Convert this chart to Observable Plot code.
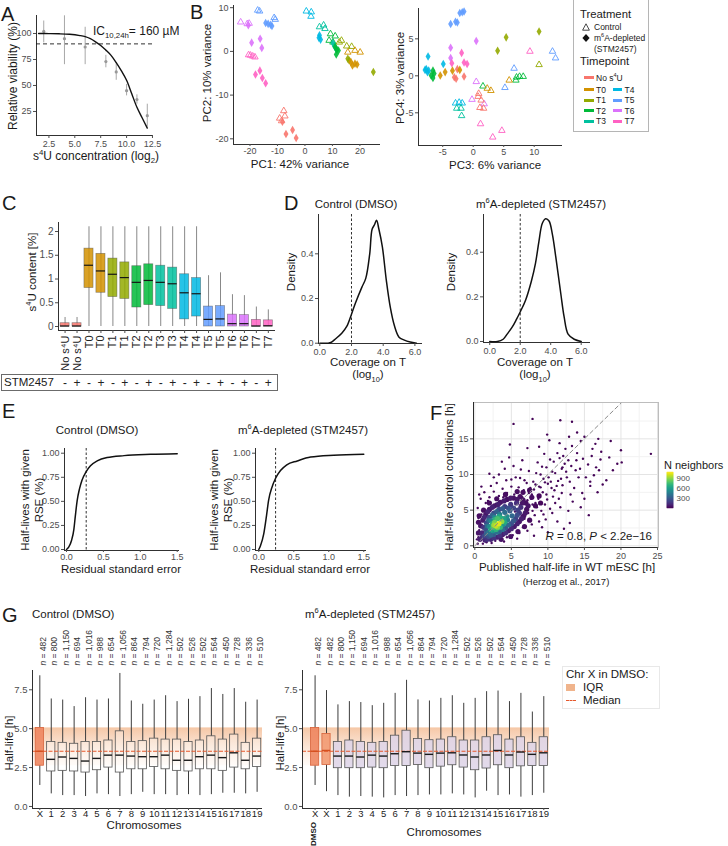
<!DOCTYPE html>
<html><head><meta charset="utf-8">
<script src="https://cdn.jsdelivr.net/npm/d3@7"></script>
<script src="https://cdn.jsdelivr.net/npm/@observablehq/plot@0.6"></script>
<style>
body{margin:0;background:#fff;}
#root{position:relative;width:728px;height:846px;overflow:hidden;font-family:"Liberation Sans",Arial,Helvetica,sans-serif;color:#222;background:#fff;}
.t{position:absolute;white-space:nowrap;line-height:1;}
sup,sub{font-size:0.65em;line-height:0;}
</style></head><body><div id="root"></div>
<script>
// ---------------- DATA ----------------
// Panel A: viability
const aConc = [2, 4, 6, 8, 9, 10, 11, 12];
const aMean = [102, 95, 87, 73, 63, 45, 36.5, 21];
const aLo = [91, 70, 70, 67, 55, 40, 32, 10];
const aHi = [112, 117, 106, 79, 72, 51, 41, 32];
const aFitX = [1.5, 2.5, 3.5, 4.5, 5.5, 6.0, 6.5, 7.0, 7.5, 8.0, 8.5, 9.0, 9.5, 10.0, 10.5, 11.0, 11.5, 12.0];
const aFitY = [100, 99.9, 99.7, 99.2, 98, 97, 95, 92, 88.5, 84, 79, 72, 64, 55, 42, 29, 19, 9];
const aThreshold = 90;
const aXTicks = [2.5, 5, 7.5, 10, 12.5];
const aYTicks = [25, 50, 75, 100];

// Panel B: PCA  [timepoint, treatment (C = control, S = STM2457), x, y]
const tpKeys = ["N", "T0", "T1", "T2", "T3", "T4", "T5", "T6", "T7"];
const tpNames = ["No s<sup>4</sup>U", "T0", "T1", "T2", "T3", "T4", "T5", "T6", "T7"];
const tpColors = ["#F8766D", "#D39200", "#93AA00", "#00BA38", "#00C19F", "#00B9E3", "#619CFF", "#DB72FB", "#FF61C3"];
const bPC12 = [
  ["N","C",-7.7,-13.6],["N","C",-7.3,-14.8],["N","C",-9.2,-15.3],["N","C",-8.5,-15.9],
  ["N","S",-8.2,-16.1],["N","S",-6.9,-18.9],["N","S",-4.5,-18.0],["N","S",-3.2,-19.8],
  ["T7","C",-20.5,-0.8],["T7","C",-19.8,-0.9],["T7","C",-19.0,-1.1],["T7","C",-18.2,-1.3],
  ["T7","S",-18.0,-5.3],["T7","S",-16.4,-4.4],["T7","S",-15.5,-6.1],["T7","S",-14.3,-7.3],
  ["T6","C",-23.4,6.7],["T6","C",-21.0,6.3],["T6","C",-20.3,6.4],
  ["T6","S",-19.4,2.0],["T6","S",-16.3,2.9],["T6","S",-15.7,0.8],["T6","S",-20.6,6.0],
  ["T5","C",-17.2,9.4],["T5","C",-16.5,9.2],["T5","C",-11.2,7.7],["T5","C",-10.8,7.3],
  ["T5","S",-14.3,6.5],["T5","S",-13.4,6.3],["T5","S",-12.5,6.1],["T5","S",-12.0,5.8],
  ["T4","C",0.5,9.2],["T4","C",2.3,9.0],["T4","C",2.2,8.0],
  ["T4","S",5.3,3.7],["T4","S",5.1,3.1],["T4","S",5.7,2.7],
  ["T3","C",5.3,5.6],["T3","C",6.8,6.0],["T3","C",7.3,5.2],
  ["T3","S",10.2,1.9],["T3","S",10.8,1.2],["T3","S",11.3,0.6],
  ["T2","C",9.3,4.0],["T2","C",11.0,3.5],["T2","C",8.8,2.5],["T2","C",10.2,2.1],
  ["T2","S",11.6,0.4],["T2","S",12.2,0.2],["T2","S",11.4,-0.7],["T2","S",11.0,1.0],
  ["T1","C",12.5,2.1],["T1","C",13.3,2.5],["T1","C",15.2,1.2],["T1","C",17.0,1.1],
  ["T1","S",15.6,-1.7],["T1","S",16.1,-2.1],["T1","S",24.9,-4.7],
  ["T0","C",15.6,-0.2],["T0","C",18.2,0.2],["T0","C",20.1,-0.2],
  ["T0","S",16.7,-2.4],["T0","S",17.3,-3.2],["T0","S",18.2,-2.8],["T0","S",19.0,-3.0]
];
const bPC34 = [
  ["T5","S",-2.2,8.5],["T5","S",-1.8,8.6],["T5","S",-1.5,8.7],["T5","S",-3.7,7.0],["T5","S",-2.9,7.3],["T5","S",-2.6,7.2],
  ["T6","S",0.5,4.7],["T6","S",-3.7,3.8],["T6","S",-3.7,2.4],
  ["T1","S",5.4,5.2],["T1","S",10.8,6.0],["T1","S",4.0,3.4],
  ["T7","S",-1.9,3.1],["T7","S",-1.5,1.8],["T7","S",-1.0,1.6],["T7","S",-3.5,1.7],
  ["N","S",-3.1,-0.2],["N","S",-2.8,-0.4],["N","S",-1.5,-0.1],["N","S",-2.6,0.9],
  ["T4","S",-7.4,2.6],["T4","S",-4.9,1.6],["T4","S",-7.7,0.9],["T4","S",-7.3,0.7],["T4","S",-7.5,0.5],["T4","S",-7.9,0.8],
  ["T2","S",-6.6,0.7],["T2","S",-6.9,0.05],["T2","S",-6.6,-0.3],["T2","S",-6.4,0.3],
  ["T0","S",-5.4,0.05],["T0","S",-4.6,0.5],["T0","S",-3.4,0.7],["T0","S",-2.2,0.8],
  ["T7","C",9.3,3.3],["T7","C",1.2,-6.5],["T7","C",3.2,-8.3],["T7","C",4.7,-7.4],
  ["T1","C",10.8,1.5],
  ["T5","C",6.7,1.0],["T5","C",5.2,-1.6],["T5","C",13.0,3.3],["T5","C",13.5,2.4],
  ["T2","C",7.1,-0.2],["T2","C",7.6,-0.1],["T2","C",8.2,-0.1],["T2","C",7.0,-0.6],["T2","C",1.6,-1.4],
  ["T0","C",5.9,-0.6],["T0","C",2.3,-1.7],["T0","C",2.9,-2.0],
  ["T6","C",0.5,-0.8],["T6","C",-0.2,-3.2],["T6","C",1.8,-3.8],
  ["N","C",0.9,-2.4],["N","C",0.8,-2.8],["N","C",1.3,-3.3],["N","C",1.7,-4.4],["N","C",1.1,-4.3],
  ["T4","C",-2.9,-3.7],["T4","C",-2.3,-3.6],["T4","C",-1.8,-3.7],
  ["T3","C",-2.7,-4.4],["T3","C",-2.0,-4.4],["T3","C",-1.9,-5.4]
];

// Panel C: s4U content boxplots
const cLabels = ["No s⁴U","No s⁴U","T0","T0","T1","T1","T2","T2","T3","T3","T4","T4","T5","T5","T6","T6","T7","T7"];
const cTp = ["N","N","T0","T0","T1","T1","T2","T2","T3","T3","T4","T4","T5","T5","T6","T6","T7","T7"];
const cStm = ["-","+","-","+","-","+","-","+","-","+","-","+","-","+","-","+","-","+"];
const cQ1 = [0,0,0.81,0.71,0.62,0.58,0.40,0.45,0.43,0.37,0.15,0.21,0,0,0,0,0,0];
const cMed = [0.01,0.01,1.29,1.17,1.10,1.03,0.93,0.97,0.93,0.90,0.71,0.69,0.15,0.16,0.06,0.06,0.01,0.015];
const cQ3 = [0.07,0.07,1.64,1.53,1.43,1.35,1.27,1.31,1.28,1.24,1.10,1.02,0.42,0.43,0.25,0.24,0.14,0.13];
const cLo = [0,0,0,0,0,0,0,0,0,0,0,0,0,0,0,0,0,0];
const cHi = [0.19,0.19,2.1,2.1,2.1,2.1,2.1,2.1,2.1,2.1,2.1,2.1,1.07,1.13,0.67,0.65,0.41,0.35];
const cYTicks = [0, 0.5, 1, 1.5, 2];

// Panel D: coverage density
const dLeftX = [0,0.5,0.7,1.0,1.4,1.7,2.0,2.25,2.65,2.9,3.15,3.3,3.45,3.58,3.73,3.95,4.2,4.45,4.7,5.0,5.3,5.7,6.1];
const dLeftY = [0,0,0.003,0.02,0.046,0.075,0.13,0.18,0.25,0.29,0.4,0.51,0.53,0.55,0.51,0.43,0.28,0.16,0.08,0.027,0.015,0.005,0];
const dRightX = [0,0.5,0.88,1.14,1.47,1.76,1.98,2.35,2.73,3.0,3.23,3.45,3.67,3.89,4.11,4.33,4.66,4.88,5.14,5.54,6.0];
const dRightY = [0,0,0.01,0.033,0.064,0.1,0.13,0.185,0.27,0.35,0.45,0.53,0.55,0.54,0.48,0.38,0.215,0.11,0.033,0.01,0];
const dThreshold = 2;
const dXTicks = [0, 2, 4, 6];
const dYTicks = [0, 0.2, 0.4];

// Panel E: cumulative RSE
const eLeftX = [0,0.03,0.068,0.1,0.12,0.145,0.176,0.21,0.267,0.325,0.416,0.55,0.78,1.14,1.5];
const eLeftY = [0,0.024,0.093,0.21,0.35,0.51,0.63,0.72,0.81,0.87,0.92,0.955,0.975,0.988,0.995];
const eRightX = [0,0.024,0.07,0.11,0.14,0.19,0.24,0.31,0.4,0.55,0.74,1.07,1.5];
const eRightY = [0,0.04,0.16,0.35,0.51,0.65,0.74,0.82,0.88,0.92,0.96,0.98,0.99];
const eLeftThreshold = 0.267;
const eRightThreshold = 0.24;
const eXTicks = [0, 0.5, 1, 1.5];
const eYTicks = [0, 0.25, 0.5, 0.75, 1];

// Panel F: half-life comparison [published, control, N neighbors]
const fCore = [
  [0.7,0.9,90],[1.0,1.8,110],[0.8,2.8,70],[1.1,3.6,80],[1.5,4.4,70],[2.0,5.1,60],[2.7,5.6,60],[3.5,6.1,55],[4.4,6.5,50],[5.3,6.7,45],[6.2,6.9,40],
  [1.4,0.8,110],[2.2,0.9,110],[3.0,1.2,100],[3.8,1.6,90],[4.6,2.1,85],[5.4,2.7,75],[6.1,3.4,60],[6.7,4.2,55],[7.1,5.1,45],[7.0,6.0,45],
  [7.8,6.8,35],[7.5,7.8,30],[6.6,7.5,35],[8.3,5.6,30],[5.8,7.6,35],[4.2,7.2,40],[3.0,6.6,40],[2.0,6.0,40],[1.2,5.0,40],[0.6,4.2,40],
  [0.5,3.3,45],[0.5,1.8,60],[8.8,7.0,25],[9.0,6.0,25],[7.5,3.6,35],[6.8,2.7,40],[5.9,2.0,45],[4.9,1.3,50],[3.6,0.9,55],
  [1.0,1.2,150],[1.2,2.6,160],[1.3,4.0,120],[1.8,4.8,110],[2.4,5.4,100],[3.2,5.8,90],[4.0,6.3,80],[4.9,6.7,70],[5.8,6.5,60],[6.6,6.4,50],
  [1.7,0.9,160],[2.6,1.1,160],[3.4,1.4,150],[4.2,1.8,140],[5.0,2.4,120],[5.8,3.1,100],[6.4,3.8,90],[6.9,4.6,70],[7.3,5.6,55],[6.5,6.0,60],
  [1.3,1.4,220],[1.5,2.3,260],[1.6,3.2,240],[2.0,4.0,240],[2.6,4.6,230],[3.3,5.1,220],[4.1,5.5,200],[4.9,5.8,170],[5.7,6.0,140],
  [1.9,1.3,260],[2.6,1.6,300],[3.4,2.0,310],[4.2,2.5,290],[5.0,3.1,250],[5.6,3.8,210],[6.1,4.6,170],[6.3,5.4,140],
  [1.6,1.7,330],[1.7,2.8,380],[1.9,3.6,360],[2.4,4.3,350],[3.0,4.8,330],[3.8,5.2,300],[4.6,5.3,260],[5.3,5.3,220],
  [2.2,1.5,360],[3.0,1.9,400],[3.8,2.3,400],[4.6,2.9,360],[5.3,3.5,300],[5.8,4.3,250],[5.9,5.0,200],
  [1.9,1.9,420],[2.0,2.7,520],[2.2,3.5,500],[2.7,4.0,500],[3.4,4.4,450],[4.1,4.7,380],[4.8,4.9,320],[2.5,2.1,560],[3.2,2.5,600],[3.9,3.0,540],[4.5,3.6,460],[5.1,4.2,360],
  [2.2,2.3,650],[2.4,3.1,700],[2.8,3.7,700],[3.3,4.1,640],[3.5,2.6,720],[4.1,3.3,650],[4.4,4.1,520],[2.9,2.3,700],
  [2.5,2.6,780],[2.7,3.3,850],[3.1,3.8,760],[3.6,3.9,680],[2.9,2.8,980],[3.3,3.1,1040],[3.7,3.4,900],[2.6,2.9,920],[3.1,2.6,880],[4.0,3.8,620]
];
const fScatter = [
  [0.4,0.3,30],[0.5,1.2,35],[0.6,2.2,35],[0.7,3.1,30],[0.5,3.9,30],[0.9,4.4,30],[0.4,5.3,25],[1.2,5.0,30],[1.5,6.0,25],[0.8,6.6,20],[1.3,7.5,20],[1.8,6.3,25],
  [0.3,0.9,30],[1.1,0.3,30],[1.6,0.5,30],[2.3,0.4,30],[1.0,2.8,40],[2.8,0.7,35],[3.6,0.9,35],[4.4,1.2,35],[5.2,1.5,30],[6.1,1.8,30],[7.2,2.1,25],[8.1,1.4,20],
  [6.6,2.6,30],[7.8,3.0,25],[8.8,3.4,25],[9.7,3.7,20],[5.8,1.0,25],[4.0,0.6,25],[10.0,1.9,20],[9.2,2.6,20],[11.3,3.4,20],
  [2.0,6.8,25],[2.6,7.6,25],[3.3,7.0,30],[2.2,8.4,20],[3.0,8.8,20],[3.8,8.0,25],[4.3,9.2,20],[3.3,10.0,20],[4.7,12.4,15],[4.8,14.2,15],[5.3,11.2,20],
  [5.6,9.6,20],[6.3,10.7,20],[5.0,8.3,25],[6.8,9.2,20],[2.9,5.9,35],[3.9,6.8,30],[4.4,7.4,30],
  [6.5,6.8,30],[7.2,6.4,30],[7.8,7.2,30],[8.3,6.0,25],[8.8,8.3,25],[9.3,7.5,25],[9.6,8.9,25],[10.1,9.6,20],[10.5,8.1,20],[11.0,10.2,20],[11.4,9.1,20],
  [11.9,10.8,20],[12.3,11.5,20],[12.0,11.0,20],[12.6,9.6,20],[8.6,11.7,20],[9.5,12.9,15],[10.2,14.8,15],[7.9,17.8,10],[5.3,17.1,10],[7.4,10.5,20],
  [8.0,9.0,25],[9.0,10.0,20],[10.8,11.8,20],[11.6,12.3,20],[12.8,12.0,20],[13.2,11.2,20],[7.0,5.2,30],[8.5,5.4,25],[9.9,6.5,25],[10.9,7.8,20],
  [11.5,6.6,20],[12.0,8.5,20],[12.8,4.9,15],[13.4,6.2,15],[14.5,5.4,15],[13.6,8.1,15],[14.2,9.6,15],[14.7,7.4,15],[15.2,9.6,15],[15.8,8.4,15],
  [16.3,9.9,15],[17.5,8.6,10],[15.5,11.4,15],[16.6,11.0,15],[14.0,13.0,15],[13.3,14.0,15],[13.3,17.4,10],[14.5,14.7,15],[15.0,15.3,10],[16.5,14.3,10],
  [16.9,15.0,10],[17.3,13.2,10],[18.4,12.4,10],[18.6,14.7,10],[20.0,13.4,10],[20.1,11.7,10],[24.1,12.9,10],[6.0,8.2,25],[7.6,8.1,25],[8.9,7.0,25],
  [9.8,11.0,20],[10.6,10.4,20],[11.3,13.0,15],[12.4,13.6,15],[13.8,10.6,15],[14.8,12.2,15],[16.0,12.6,15],[15.8,9.0,15],[17.0,10.6,10],[18.0,9.2,10],
  [19.5,11.5,10],[13.0,3.2,10],[15.6,4.3,10],[12.2,2.4,10],[5.9,3.3,40],[6.4,4.2,40],[7.3,4.6,35],[7.9,5.8,30],[6.8,3.8,35],[8.2,4.3,30],[9.1,4.9,25],
  [9.6,5.8,25],[8.7,6.6,25],[10.3,5.2,20],[11.0,6.0,20],[6.2,5.7,35],[7.4,7.4,30],[5.4,7.2,30],[4.8,6.5,35],[6.7,7.8,30],[8.3,8.6,25],[9.4,9.4,25],
  [10.0,8.7,20],[11.8,9.4,20],
  [5.5,4.8,40],[6.9,6.1,30],[7.7,6.6,30],[8.1,7.9,25],[9.0,8.2,20],[9.8,7.2,20],[10.4,9.0,20],[11.2,8.4,20],[10.7,6.9,20],[11.9,7.4,15],[12.5,10.4,15],
  [13.0,9.0,15],[12.1,12.6,15],[10.3,12.1,15],[9.2,11.1,15],[8.4,10.2,20],[7.1,8.8,20],[6.2,9.5,20],[7.9,4.9,25],[8.9,5.9,20],[9.4,4.4,20],[10.6,4.6,15],
  [11.7,5.4,15],[5.0,9.3,20],[4.1,10.8,15],[3.7,11.8,10],[2.6,9.6,15],[13.9,12.0,10],[14.4,10.8,10],[16.1,13.6,10],[17.2,12.1,10],[12.9,15.3,10],
  [11.6,14.4,10],[15.0,6.6,10],[16.8,7.5,10],[13.1,7.2,15],[6.5,12.0,15],[7.2,13.7,10],[8.8,13.9,10],[9.9,15.6,10],[0.9,8.3,15],[0.6,7.2,15],[2.0,10.1,10],
  [11.7,17.6,10],[18.9,10.6,10],[14.0,15.9,10]
];
const fDiag = [0, 20];
const fMajorX = [0, 5, 10, 15, 20, 25];
const fMajorY = [0, 5, 10, 15];
const fMinorX = [2.5, 7.5, 12.5, 17.5, 22.5];
const fMinorY = [2.5, 7.5, 12.5, 17.5];
const fColorDomain = [0, 1080];
const fColorTicks = [300, 600, 900];

// Panel G: half-life per chromosome
const gLeftLabels = ["X","1","2","3","4","5","6","7","8","9","10","11","12","13","14","15","16","17","18","19"];
const gLeftN = ["482","800","1,150","694","1,016","988","654","1,056","864","794","720","1,284","502","526","502","564","450","728","336","510"];
const gLeftQ1 = [2.62,2.25,2.29,2.25,2.18,2.33,2.50,2.18,2.39,2.39,2.54,2.39,2.29,2.25,2.39,2.39,2.29,2.50,2.39,2.54];
const gLeftMed = [3.55,3.03,3.18,3.09,2.92,3.09,3.30,3.30,3.24,3.20,3.20,3.30,2.97,2.97,3.20,3.30,3.14,3.45,2.97,3.24];
const gLeftQ3 = [5.05,4.15,4.09,4.03,4.15,4.15,4.24,4.83,4.15,4.20,4.36,4.30,4.30,4.15,4.24,4.51,4.30,4.62,4.09,4.36];
const gLeftLo = [1.35,0.81,0.70,0.70,0.64,0.81,0.76,0.64,0.76,0.91,0.76,0.76,0.70,0.76,0.70,0.76,0.85,0.85,0.81,0.91];
const gLeftHi = [8.40,6.91,6.84,6.42,6.99,6.84,6.91,8.55,6.78,6.57,6.84,7.12,6.74,6.89,7.06,7.58,7.20,7.58,6.70,6.84];
const gRightLabels = ["X","X","1","2","3","4","5","6","7","8","9","10","11","12","13","14","15","16","17","18","19"];
const gRightN = ["482","482","800","1,150","694","1,016","988","654","1,056","864","794","720","1,284","502","526","502","564","450","728","336","510"];
const gRightQ1 = [2.62,2.67,2.46,2.46,2.46,2.50,2.46,2.60,2.60,2.67,2.46,2.56,2.65,2.50,2.33,2.44,2.65,2.46,2.58,2.60,2.60];
const gRightMed = [3.55,3.60,3.24,3.24,3.18,3.30,3.24,3.39,3.52,3.43,3.35,3.43,3.45,3.31,3.18,3.31,3.60,3.31,3.50,3.35,3.45];
const gRightQ3 = [5.05,4.66,4.15,4.24,4.15,4.09,4.15,4.55,4.87,4.34,4.26,4.30,4.45,4.24,4.24,4.45,4.58,4.30,4.45,4.09,4.45];
const gRightLo = [1.35,0.95,0.70,0.60,0.64,0.60,0.55,0.70,0.64,0.70,0.74,0.74,0.81,0.74,0.55,0.98,0.70,0.74,0.60,0.70,0.85];
const gRightHi = [8.40,7.45,6.53,6.74,6.68,6.48,6.63,7.27,8.11,6.85,6.78,6.95,7.12,6.63,6.95,7.38,7.42,6.74,7.27,6.07,7.06];
const gXinDMSO = [{q1: 2.62, med: 3.55, q3: 5.05}];
const gYTicks = [0, 2.5, 5, 7.5];

// ---------------- HELPERS ----------------
const root = document.getElementById("root");
const FONT = '"Liberation Sans", Arial, Helvetica, sans-serif';
const INK = "#1a1a1a";
const TICK = "#4d4d4d";

function lab(html, x, y, o = {}) {
  const {size = 11.5, anchor = "middle", rot = 0, weight = "normal", color = INK, extra = ""} = o;
  const d = document.createElement("div");
  d.className = "t";
  d.innerHTML = html;
  const tx = anchor === "middle" ? "-50%" : anchor === "end" ? "-100%" : "0%";
  d.style.cssText = `left:${x}px;top:${y}px;font-size:${size}px;font-weight:${weight};color:${color};transform:translate(${tx},-50%)${rot ? ` rotate(${rot}deg)` : ""};${extra}`;
  root.appendChild(d);
  return d;
}
function box(x, y, w, h, css) {
  const d = document.createElement("div");
  d.style.cssText = `position:absolute;left:${x}px;top:${y}px;width:${w}px;height:${h}px;box-sizing:border-box;${css}`;
  root.appendChild(d);
  return d;
}
function mk(left, top, opts, fontSize = 9) {
  const svg = Plot.plot({...opts, style: {fontFamily: FONT, fontSize: fontSize + "px", color: TICK, background: "none", overflow: "visible"}});
  svg.style.position = "absolute";
  svg.style.left = left + "px";
  svg.style.top = top + "px";
  root.appendChild(svg);
  return svg;
}
const axX = (o) => Plot.axisX({tickSize: 3, tickPadding: 2, label: null, ...o});
const axY = (o) => Plot.axisY({tickSize: 3, tickPadding: 2, label: null, ...o});
const lines = (xd, yd) => [Plot.ruleX([xd[0]], {stroke: INK, strokeWidth: 0.9}), Plot.ruleY([yd[0]], {stroke: INK, strokeWidth: 0.9})];
const f1 = d3.format(".1f"), f2 = d3.format(".2f");

// ---------------- PANEL A ----------------
{
  const data = aConc.map((x, i) => ({x, m: aMean[i], lo: aLo[i], hi: aHi[i]}));
  const fit = aFitX.map((x, i) => ({x, y: aFitY[i]}));
  const xd = [1.3, 12.6], yd = [1.9, 117.3];
  mk(0, 0, {width: 160, height: 160, marginLeft: 36, marginTop: 15, marginRight: 7, marginBottom: 25,
    x: {domain: xd}, y: {domain: yd},
    marks: [
      Plot.ruleY([aThreshold], {stroke: INK, strokeDasharray: "4,3", strokeWidth: 0.9}),
      Plot.ruleX(data, {x: "x", y1: "lo", y2: "hi", stroke: "#a8a8a8", strokeWidth: 1}),
      Plot.dot(data, {x: "x", y: "m", r: 1.6, fill: "#999"}),
      Plot.line(fit, {x: "x", y: "y", stroke: "#111", strokeWidth: 1.4, curve: "catmull-rom"}),
      ...lines(xd, yd),
      axX({ticks: aXTicks, tickFormat: f1}),
      axY({ticks: aYTicks})
    ]});
  lab("A", 1, 14, {size: 20, anchor: "start"});
  lab("Relative viability (%)", 13, 76, {rot: -90, size: 12});
  lab("s<sup>4</sup>U concentration (log<sub>2</sub>)", 96, 156, {size: 12});
  lab("IC<sub>10,24h</sub>= 160 µM", 93, 31, {anchor: "start", size: 12});
}

// ---------------- PANEL B ----------------
{
  const color = {domain: tpKeys, range: tpColors};
  const rows = (arr) => arr.map(([tp, trt, x, y]) => ({tp, trt, x, y}));
  const pcMarks = (rs) => [
    Plot.dot(rs.filter(d => d.trt === "C"), {x: "x", y: "y", stroke: "tp", fill: "none", symbol: "triangle2", r: 3.1, strokeWidth: 1, strokeOpacity: 0.9}),
    Plot.dot(rs.filter(d => d.trt === "S"), {x: "x", y: "y", fill: "tp", symbol: "diamond", r: 2.6, fillOpacity: 0.9})
  ];
  const r12 = rows(bPC12), r34 = rows(bPC34);
  const xd1 = [-26.0, 27.5], yd1 = [-21.3, 10.5];
  mk(190, 0, {width: 205, height: 175, marginLeft: 43, marginTop: 5, marginRight: 15, marginBottom: 31,
    x: {domain: xd1}, y: {domain: yd1}, color,
    marks: [...lines(xd1, yd1), ...pcMarks(r12),
      axX({ticks: [-20, -10, 0, 10, 20], tickFormat: String, tickSize: 2, tickPadding: 1}), axY({ticks: [-20, -10, 0, 10], tickFormat: String})]});
  const xd2 = [-8.97, 14.64], yd2 = [-9.42, 9.1];
  mk(400, 0, {width: 165, height: 175, marginLeft: 18, marginTop: 8, marginRight: 3, marginBottom: 30,
    x: {domain: xd2}, y: {domain: yd2}, color,
    marks: [...lines(xd2, yd2), ...pcMarks(r34),
      axX({ticks: [-5, 0, 5, 10], tickFormat: String, tickSize: 2, tickPadding: 1}), axY({ticks: [-5, 0, 5], tickFormat: String})]});
  lab("B", 190, 12, {size: 20, anchor: "start"});
  lab("PC2: 10% variance", 208, 73, {rot: -90});
  lab("PC1: 42% variance", 300, 165);
  lab("PC4: 3% variance", 401, 78, {rot: -90});
  lab("PC3: 6% variance", 495, 166);
  // legend
  box(573, -1, 76, 133, "border:1px solid #b5b5b5;background:#fff;");
  lab("Treatment", 580, 15, {anchor: "start", size: 11.3});
  lab('<svg width="8" height="8" style="display:block"><polygon points="4,0.8 7.4,7.2 0.6,7.2" fill="none" stroke="#333" stroke-width="0.9"/></svg>', 582, 27, {anchor: "start"});
  lab("Control", 594, 27, {anchor: "start", size: 8.5});
  lab('<svg width="8" height="8" style="display:block"><polygon points="4,0 7.6,4 4,8 0.4,4" fill="#111"/></svg>', 582, 37.5, {anchor: "start"});
  lab("m<sup>6</sup>A-depleted", 594, 37.5, {anchor: "start", size: 8.5});
  lab("(STM2457)", 594, 48.5, {anchor: "start", size: 8.5});
  lab("Timepoint", 580, 62, {anchor: "start", size: 11.3});
  const ly = [77.5, 89.5, 100, 110.5, 121];
  tpKeys.forEach((k, i) => {
    const col = i <= 4 ? 0 : 1;
    const row = i === 0 ? 0 : (i <= 4 ? i : i - 4);
    const sx = col === 0 ? 584 : 612.5;
    const y = ly[row];
    box(sx, y - 1.5, 9.5, 3, `background:${tpColors[i]};`);
    lab(tpNames[i], sx + 12, y, {anchor: "start", size: 8.5});
  });
}

// ---------------- PANEL C ----------------
{
  const rows = cLabels.map((l, i) => ({i, tp: cTp[i], stm: cStm[i], q1: cQ1[i], med: cMed[i], q3: cQ3[i], lo: cLo[i], hi: cHi[i]}));
  const xd = [-0.55, 17.6], yd = [-0.084, 2.19];
  const hw = 0.38;
  mk(0, 215, {width: 280, height: 160, marginLeft: 58, marginTop: 7, marginRight: 5, marginBottom: 45,
    x: {domain: xd}, y: {domain: yd}, color: {domain: tpKeys, range: tpColors},
    marks: [
      Plot.ruleX(rows, {x: "i", y1: "lo", y2: "hi", stroke: "#7a7a7a", strokeWidth: 0.9}),
      Plot.rect(rows, {x1: d => d.i - hw, x2: d => d.i + hw, y1: "q1", y2: "q3", fill: "tp", fillOpacity: 0.85, stroke: "#4a4a4a", strokeOpacity: 0.55, strokeWidth: 0.7}),
      Plot.ruleY(rows, {y: "med", x1: d => d.i - hw, x2: d => d.i + hw, stroke: "#151515", strokeWidth: 1.2}),
      ...lines(xd, yd),
      axY({ticks: cYTicks, tickFormat: d => String(d), fontSize: 10}),
      axX({ticks: rows.map(d => d.i), tickFormat: i => cLabels[i], tickRotate: -90, fontSize: 11, fill: "#222"})
    ]});
  lab("C", 2, 203, {size: 20, anchor: "start"});
  lab("s<sup>4</sup>U content [%]", 33, 272, {rot: -90, size: 11.5});
  box(1, 374, 277, 17, "border:1px solid #6b6b6b;");
  lab("STM2457", 4, 382.5, {anchor: "start", size: 11.5});
  mk(0, 374, {width: 280, height: 17, marginLeft: 58, marginRight: 5, marginTop: 0, marginBottom: 0,
    x: {domain: xd, axis: null},
    marks: [Plot.text(rows, {x: "i", text: "stm", frameAnchor: "middle", fontSize: 12, fill: "#222"})]}, 12);
}

// ---------------- PANEL D ----------------
{
  const mkD = (left, xs, ys, xd, yd, ml, mr, mb) => mk(left, 205, {width: 140, height: 160, marginLeft: ml, marginTop: 9, marginRight: mr, marginBottom: mb,
    x: {domain: xd}, y: {domain: yd},
    marks: [
      Plot.ruleX([dThreshold], {stroke: INK, strokeDasharray: "2.5,2", strokeWidth: 0.9}),
      Plot.line(xs.map((x, i) => ({x, y: ys[i]})), {x: "x", y: "y", stroke: "#111", strokeWidth: 1.5, curve: "catmull-rom"}),
      ...lines(xd, yd),
      axX({ticks: dXTicks}), axY({ticks: dYTicks, tickFormat: f1})
    ]});
  mkD(290, dLeftX, dLeftY, [-0.082, 6.48], [-0.0013, 0.576], 28, 8, 22);
  mkD(455, dRightX, dRightY, [-0.41, 6.61], [-0.0045, 0.569], 28, 5, 23);
  lab("D", 284, 203, {size: 20, anchor: "start"});
  lab("Control (DMSO)", 356, 205);
  lab("m<sup>6</sup>A-depleted (STM2457)", 541, 205);
  lab("Density", 292, 272, {rot: -90});
  lab("Density", 452, 272, {rot: -90});
  lab("Coverage on T", 368, 363);
  lab("(log<sub>10</sub>)", 368, 375);
  lab("Coverage on T", 535, 363);
  lab("(log<sub>10</sub>)", 535, 375);
}

// ---------------- PANEL E ----------------
{
  const mkE = (left, width, ml, xs, ys, xd, thr) => mk(left, 440, {width, height: 130, marginLeft: ml, marginTop: 8, marginRight: 6, marginBottom: 20,
    x: {domain: xd}, y: {domain: [-0.0104, 1.049]},
    marks: [
      Plot.ruleX([thr], {stroke: INK, strokeDasharray: "2.5,2", strokeWidth: 0.9}),
      Plot.line(xs.map((x, i) => ({x, y: ys[i]})), {x: "x", y: "y", stroke: "#111", strokeWidth: 1.5, curve: "monotone-x"}),
      ...lines(xd, [-0.0104]),
      axX({ticks: eXTicks, tickFormat: f1, tickSize: 2, tickPadding: 1}), axY({ticks: eYTicks, tickFormat: f2})
    ]});
  mkE(30, 155, 34, eLeftX, eLeftY, [-0.027, 1.531], eLeftThreshold);
  mkE(222, 150, 33, eRightX, eRightY, [-0.047, 1.539], eRightThreshold);
  lab("E", 2, 411, {size: 20, anchor: "start"});
  lab("Control (DMSO)", 97, 431);
  lab("m<sup>6</sup>A-depleted (STM2457)", 303, 431);
  lab("Half-lives with given", 26, 500, {rot: -90});
  lab("RSE (%)", 40, 500, {rot: -90});
  lab("Half-lives with given", 215, 500, {rot: -90});
  lab("RSE (%)", 229, 500, {rot: -90});
  lab("Residual standard error", 121, 570);
  lab("Residual standard error", 310, 570);
}

// ---------------- PANEL F ----------------
{
  const core = d3.sort(fCore.map(([x, y, n]) => ({x, y, n})), d => d.n);
  const scat = d3.sort(fScatter.map(([x, y, n]) => ({x, y, n})), d => d.n);
  const xd = [-0.18, 25.14], yd = [-0.24, 20.1];
  const color = {type: "linear", scheme: "viridis", domain: fColorDomain};
  mk(440, 395, {width: 225, height: 175, marginLeft: 33, marginTop: 7, marginRight: 7, marginBottom: 23,
    x: {domain: xd}, y: {domain: yd}, color,
    marks: [
      Plot.ruleX(fMinorX, {stroke: "#f2f2f2"}), Plot.ruleY(fMinorY, {stroke: "#f2f2f2"}),
      Plot.ruleX(fMajorX, {stroke: "#e4e4e4"}), Plot.ruleY(fMajorY, {stroke: "#e4e4e4"}),
      Plot.frame({stroke: "#bdbdbd"}),
      Plot.dot(scat, {x: "x", y: "y", fill: "n", r: 1.2}),
      Plot.dot(core, {x: "x", y: "y", fill: "n", r: 2.6}),
      Plot.line(fDiag.map(v => ({v})), {x: "v", y: "v", stroke: "#8a8a8a", strokeDasharray: "4,3", strokeWidth: 1, clip: true}),
      ...lines(xd, yd),
      axX({ticks: fMajorX}), axY({ticks: fMajorY})
    ]});
  mk(660, 468, {width: 42, height: 47, marginLeft: 7, marginRight: 29, marginTop: 4, marginBottom: 7,
    y: {domain: fColorDomain}, color,
    marks: [
      Plot.rect(d3.range(fColorDomain[0], fColorDomain[1], 10), {y1: d => d, y2: d => d + 10, fill: d => d, stroke: d => d, strokeWidth: 0.5}),
      Plot.axisY({anchor: "right", ticks: fColorTicks, tickSize: 0, tickPadding: 3, label: null, fontSize: 8})
    ]}, 8);
  lab("F", 430, 413, {size: 20, anchor: "start"});
  lab("Half-life control conditions [h]", 450, 477, {rot: -90});
  lab("Published half-life in WT mESC [h]", 567, 568);
  lab("(Herzog et al., 2017)", 566, 582, {size: 9.5});
  lab("<i>R</i> = 0.8, <i>P</i> &lt; 2.2e−16", 652, 537, {anchor: "end", size: 11.5});
  lab("N neighbors", 664, 465, {anchor: "start", size: 11});
}

// ---------------- PANEL G ----------------
{
  const build = (labels, ns, q1, med, q3, lo, hi) => labels.map((l, i) => ({i, l, n: ns[i], q1: q1[i], med: med[i], q3: q3[i], lo: lo[i], hi: hi[i]}));
  const gL = build(gLeftLabels, gLeftN, gLeftQ1, gLeftMed, gLeftQ3, gLeftLo, gLeftHi);
  const gR = build(gRightLabels, gRightN, gRightQ1, gRightMed, gRightQ3, gRightLo, gRightHi);
  const yd = [-0.13, 8.74];
  const hw = 0.36;
  const gMarks = (rows, xd, nX, otherFill, otherOpacity, gid) => [
    Plot.rect(gXinDMSO, {y1: "q1", y2: "q3", fill: `url(#${gid})`}),
    Plot.ruleX(rows, {x: "i", y1: "lo", y2: "q1", stroke: "#3d3d3d", strokeWidth: 1}),
    Plot.ruleX(rows, {x: "i", y1: "q3", y2: "hi", stroke: "#3d3d3d", strokeWidth: 1}),
    Plot.rect(rows.filter(d => d.i >= nX), {x1: d => d.i - hw, x2: d => d.i + hw, y1: "q1", y2: "q3", fill: otherFill, fillOpacity: otherOpacity, stroke: "#555", strokeWidth: 0.8}),
    Plot.rect(rows.filter(d => d.i === 0), {x1: d => d.i - hw, x2: d => d.i + hw, y1: "q1", y2: "q3", fill: "#ee8660", fillOpacity: 0.9, stroke: "#d8643c", strokeWidth: 0.8}),
    Plot.rect(rows.filter(d => d.i > 0 && d.i < nX), {x1: d => d.i - hw, x2: d => d.i + hw, y1: "q1", y2: "q3", fill: "#f29a72", fillOpacity: 0.9, stroke: "#d8643c", strokeWidth: 0.8}),
    Plot.ruleY(gXinDMSO, {y: "med", stroke: "#e5582c", strokeWidth: 1.1, strokeDasharray: "4,1.5"}),
    Plot.ruleY(rows.filter(d => d.i >= nX), {y: "med", x1: d => d.i - hw, x2: d => d.i + hw, stroke: "#1a1a1a", strokeWidth: 1.4}),
    Plot.ruleY(rows.filter(d => d.i < nX), {y: "med", x1: d => d.i - hw, x2: d => d.i + hw, stroke: "#d4501f", strokeWidth: 1.4}),
    Plot.text(rows, {x: "i", text: () => "n", frameAnchor: "top", rotate: -90, textAnchor: "start", dy: -5, fontStyle: "italic", fontSize: 8.5, fill: "#333"}),
    Plot.text(rows, {x: "i", text: d => "= " + d.n, frameAnchor: "top", rotate: -90, textAnchor: "start", dy: -12, fontSize: 8.5, fill: "#333"}),
    ...lines(xd, yd),
    axY({ticks: gYTicks, tickFormat: f1, fontSize: 9.5}),
    axX({ticks: rows.map(d => d.i), tickFormat: i => rows[i].l, tickSize: 2, tickPadding: 0, fontSize: 9.5, fill: "#222"})
  ];
  const grad = (id) => `<defs><linearGradient id="${id}" x1="0" y1="0" x2="0" y2="1"><stop offset="0" stop-color="#f4bd96" stop-opacity="0.85"/><stop offset="0.55" stop-color="#f9dcc7" stop-opacity="0.7"/><stop offset="1" stop-color="#fff6ef" stop-opacity="0.5"/></linearGradient></defs>`;
  const xdL = [-0.64, 19.47];
  const sL = mk(0, 620, {width: 266, height: 212, marginLeft: 32, marginTop: 50, marginRight: 4, marginBottom: 24,
    x: {domain: xdL}, y: {domain: yd}, marks: gMarks(gL, xdL, 1, "#ffffff", 0.25, "gbandL")});
  sL.insertAdjacentHTML("afterbegin", grad("gbandL"));
  const xdR = [-1.1, 20.5];
  const sR = mk(266, 620, {width: 287, height: 212, marginLeft: 36, marginTop: 50, marginRight: 4, marginBottom: 24,
    x: {domain: xdR}, y: {domain: yd}, marks: gMarks(gR, xdR, 2, "#ddd4e8", 0.85, "gbandR")});
  sR.insertAdjacentHTML("afterbegin", grad("gbandR"));
  lab("G", 2, 615, {size: 20, anchor: "start"});
  lab("Control (DMSO)", 32, 615, {anchor: "start"});
  lab("m<sup>6</sup>A-depleted (STM2457)", 305, 615, {anchor: "start"});
  lab("Half-life [h]", 10, 743, {rot: -90});
  lab("Half-life [h]", 281, 743, {rot: -90});
  lab("Chromosomes", 144, 826);
  lab("Chromosomes", 444, 833);
  lab("DMSO", 314, 834, {rot: -90, size: 8, weight: "bold"});
  // legend
  box(562, 666, 98, 43, "border:1px solid #e8e8e8;");
  lab("Chr X in DMSO:", 566, 675, {anchor: "start", size: 11.5});
  box(566, 684, 9, 7, "background:#f0b48c;");
  lab("IQR", 583, 688, {anchor: "start", size: 11.5});
  box(566, 700, 10, 0, "border-top:1.3px dashed #e5582c;");
  lab("Median", 583, 700.5, {anchor: "start", size: 11.5});
}
</script></body></html>
